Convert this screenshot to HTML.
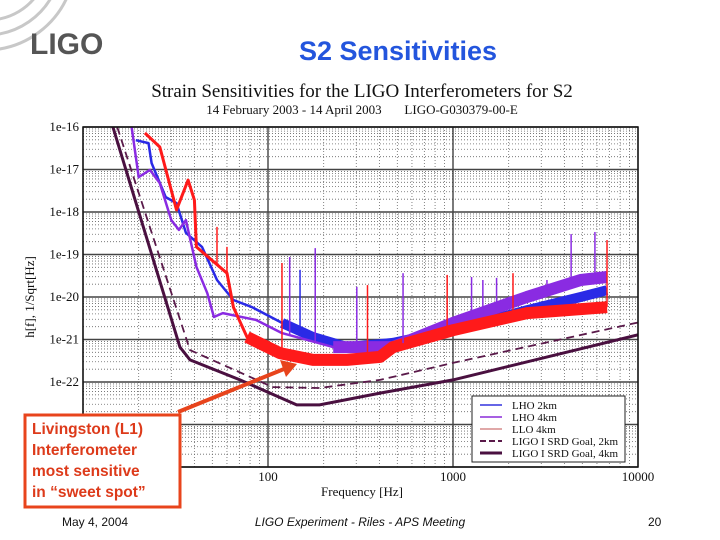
<!DOCTYPE html>
<html><head><meta charset="utf-8"><style>
body{margin:0;background:#fff;}
#wrap{position:relative;width:720px;height:540px;overflow:hidden;background:#fff;font-family:"Liberation Sans",sans-serif;}
.abs{position:absolute;}
</style></head><body>
<div id="wrap">
<svg class="abs" style="left:0;top:0" width="720" height="540">
  <g fill="none" stroke="#c8c8c8" stroke-width="3">
    <path d="M-10,20 A60,60 0 0 0 40,-10"/>
    <path d="M-10,35 A75,75 0 0 0 55,-10"/>
    <path d="M-10,50 A90,90 0 0 0 70,-10"/>
  </g>
  <text x="30" y="54" font-family="Liberation Sans" font-weight="bold" font-size="30" fill="#555">LIGO</text>
  <text x="398" y="60" text-anchor="middle" font-family="Liberation Sans" font-weight="bold" font-size="27" fill="#2355dd">S2 Sensitivities</text>
  <text x="362" y="97" text-anchor="middle" font-family="Liberation Serif" font-size="19" fill="#111">Strain Sensitivities for the LIGO Interferometers for S2</text>
  <text x="362" y="114" text-anchor="middle" font-family="Liberation Serif" font-size="13" fill="#111">14 February 2003 - 14 April 2003&#160;&#160;&#160;&#160;&#160;&#160;&#160;LIGO-G030379-00-E</text>
  <g id="chart"></g>
  <text transform="translate(34,297) rotate(-90)" text-anchor="middle" font-family="Liberation Serif" font-size="13" fill="#111">h[f], 1/Sqrt[Hz]</text>
  <text x="362" y="496" text-anchor="middle" font-family="Liberation Serif" font-size="13" fill="#111">Frequency [Hz]</text>
  <g>
    <rect x="472" y="396" width="153" height="66" fill="#fff" stroke="#222" stroke-width="1"/>
    <line x1="480" y1="405" x2="502" y2="405" stroke="#3333dd" stroke-width="1.5"/>
    <text x="512" y="409" font-family="Liberation Serif" font-size="11" fill="#111">LHO 2km</text>
    <line x1="480" y1="417" x2="502" y2="417" stroke="#8a2bd8" stroke-width="1.5"/>
    <text x="512" y="421" font-family="Liberation Serif" font-size="11" fill="#111">LHO 4km</text>
    <line x1="480" y1="429" x2="502" y2="429" stroke="#c05050" stroke-width="1"/>
    <text x="512" y="433" font-family="Liberation Serif" font-size="11" fill="#111">LLO 4km</text>
    <line x1="480" y1="441" x2="502" y2="441" stroke="#5a1a4a" stroke-width="2" stroke-dasharray="6,3"/>
    <text x="512" y="445" font-family="Liberation Serif" font-size="11" fill="#111">LIGO I SRD Goal, 2km</text>
    <line x1="480" y1="453" x2="502" y2="453" stroke="#4a1040" stroke-width="3"/>
    <text x="512" y="457" font-family="Liberation Serif" font-size="11" fill="#111">LIGO I SRD Goal, 4km</text>
  </g>
  <g>
    <line x1="178" y1="412" x2="284" y2="369" stroke="#e8441c" stroke-width="4"/>
    <polygon points="297,364 280,360 286,377" fill="#e8441c"/>
  </g>
  <rect x="25" y="415" width="155" height="92" fill="#fff" stroke="#e8441c" stroke-width="3"/>
  <g font-family="Liberation Sans" font-weight="bold" font-size="15.5" fill="#dd3a1a">
    <text x="32" y="434">Livingston (L1)</text>
    <text x="32" y="455">Interferometer</text>
    <text x="32" y="476">most sensitive</text>
    <text x="32" y="497">in “sweet spot”</text>
  </g>
  <text x="62" y="526" font-family="Liberation Sans" font-size="12" fill="#111">May 4, 2004</text>
  <text x="360" y="526" text-anchor="middle" font-family="Liberation Sans" font-style="italic" font-size="12" fill="#111">LIGO Experiment - Riles - APS Meeting</text>
  <text x="648" y="526" font-family="Liberation Sans" font-size="12" fill="#111">20</text>
</svg>
</div>
<script>
// ---- data ----
const xTicks=[10,100,1000,10000];
const xTickLabels=["","100","1000","10000"];
const yTicks=[-16,-17,-18,-19,-20,-21,-22,-23,-24];
const yTickLabels=["1e-16","1e-17","1e-18","1e-19","1e-20","1e-21","1e-22","",""];
const srd4Freq=[14.5,33.4,37.9,70.6,143,190,403,1000,10000];
const srd4LogH=[-16.0,-21.18,-21.48,-21.95,-22.54,-22.54,-22.26,-21.95,-20.89];
const srd2Freq=[15.3,37.9,80,106,190,403,1000,10000];
const srd2LogH=[-16.0,-21.25,-21.88,-22.12,-22.14,-21.95,-21.55,-20.6];
const lloFreq=[21.6,26,32,37,40,41,60,65,77,116,175,267,403,474,1000,2510,6800];
const lloLogH=[-16.14,-16.47,-17.95,-17.25,-17.72,-18.82,-19.44,-20.24,-20.94,-21.32,-21.48,-21.48,-21.41,-21.18,-20.78,-20.38,-20.24];
const lho2Freq=[19.3,22.6,23.5,28,32,36,44,53,65,82,119,175,267,474,1000,2510,4900,6800];
const lho2LogH=[-16.31,-16.38,-16.85,-17.65,-17.79,-18.49,-18.82,-19.6,-20.07,-20.24,-20.61,-20.94,-21.18,-21.08,-20.78,-20.31,-20.0,-19.84];
const lho4Freq=[18.3,20,23,26,30,33,36,41,47,51,57,86,119,225,474,1000,2510,4900,6800];
const lho4LogH=[-16.0,-17.18,-17.01,-17.32,-18.19,-18.42,-18.19,-19.29,-19.91,-20.47,-20.38,-20.54,-20.85,-21.18,-21.18,-20.61,-20.0,-19.6,-19.53];
const spikeFreq=[53,60,119,131,149,180,302,345,537,930,1260,1450,1720,2110,3220,4350,5850,6800];
const spikeLogH=[-18.35,-18.82,-19.2,-19.06,-19.36,-18.85,-19.76,-19.72,-19.44,-19.48,-19.53,-19.6,-19.55,-19.44,-19.6,-18.52,-18.47,-18.66];
const spikeSeries=["llo","llo","llo","lho4","lho2","lho4","lho4","llo","lho4","llo","lho4","lho4","lho4","llo","lho4","lho4","lho4","llo"];

// ---- axes ----
const X0=83,X1=638,Y0=127,Y1=467;
function xs(f){return X0+(Math.log10(f)-1)/3*(X1-X0);}
function ys(lh){return Y0+(-16-lh)/8*(Y1-Y0);}
const NS="http://www.w3.org/2000/svg";
const chart=document.getElementById('chart');
function mk(tag,attrs,parent){const e=document.createElementNS(NS,tag);for(const k in attrs)e.setAttribute(k,attrs[k]);(parent||chart).appendChild(e);return e;}

const bg=mk('rect',{x:X0,y:Y0,width:X1-X0,height:Y1-Y0,fill:'#fff'});


const grid=mk('g',{});


for(let d=1;d<4;d++){for(let m=2;m<=9;m++){const x=xs(m*Math.pow(10,d));mk('line',{x1:x,y1:Y0,x2:x,y2:Y1,stroke:'#666','stroke-width':0.8,'stroke-dasharray':'1,2'},grid);}}
for(let d=-24;d<-16;d++){for(let m=2;m<=9;m++){const y=ys(d+Math.log10(m));mk('line',{x1:X0,y1:y,x2:X1,y2:y,stroke:'#666','stroke-width':0.8,'stroke-dasharray':'1,2'},grid);}}
xTicks.forEach((f,i)=>{const x=xs(f);mk('line',{x1:x,y1:Y0,x2:x,y2:Y1,stroke:'#222','stroke-width':1.2},grid);
  const t=mk('text',{x:x,y:481,'text-anchor':'middle','font-family':'Liberation Serif','font-size':13,fill:'#111'});t.textContent=xTickLabels[i];
  
  });
yTicks.forEach((v,i)=>{const y=ys(v);mk('line',{x1:X0,y1:y,x2:X1,y2:y,stroke:'#444','stroke-width':1.5},grid);
  const t=mk('text',{x:79,y:y+4,'text-anchor':'end','font-family':'Liberation Serif','font-size':13,fill:'#111'});t.textContent=yTickLabels[i];
  
  });

const clip=mk('clipPath',{id:'pc'});mk('rect',{x:X0,y:Y0,width:X1-X0,height:Y1-Y0},clip);
const series=mk('g',{'clip-path':'url(#pc)'});
function line(fr,lh,attrs,name){const d=fr.map((f,i)=>(i?'L':'M')+xs(f).toFixed(1)+','+ys(lh[i]).toFixed(1)).join('');
  const p=mk('path',Object.assign({d:d,fill:'none'},attrs),series);
  
  return p;}
function hiPart(fr,lh,fmin){const F=[],L=[];fr.forEach((f,i)=>{if(f>=fmin){F.push(f);L.push(lh[i]);}});return [F,L];}
const cols={lho2:'#2a2ae6',lho4:'#8a2be2',llo:'#ff1a1a'};
line(lho2Freq,lho2LogH,{stroke:cols.lho2,'stroke-width':2.5,'stroke-linejoin':'round'},'series-lho-2km');
let hp=hiPart(lho2Freq,lho2LogH,110);
line(hp[0],hp[1],{stroke:cols.lho2,'stroke-width':10,'stroke-linejoin':'round'},'series-lho-2km-band');
line(lho4Freq,lho4LogH,{stroke:cols.lho4,'stroke-width':2.5,'stroke-linejoin':'round'},'series-lho-4km');
hp=hiPart(lho4Freq,lho4LogH,200);
line(hp[0],hp[1],{stroke:cols.lho4,'stroke-width':12,'stroke-linejoin':'round'},'series-lho-4km-band');
line(lloFreq,lloLogH,{stroke:cols.llo,'stroke-width':3,'stroke-linejoin':'round'},'series-llo-4km');
hp=hiPart(lloFreq,lloLogH,70);
line(hp[0],hp[1],{stroke:cols.llo,'stroke-width':12,'stroke-linejoin':'round'},'series-llo-4km-band');
spikeFreq.forEach((f,i)=>{const s=spikeSeries[i];const base={llo:[lloFreq,lloLogH],lho2:[lho2Freq,lho2LogH],lho4:[lho4Freq,lho4LogH]}[s];
  let bl=base[1][0];for(let k=0;k<base[0].length-1;k++){if(f>=base[0][k]&&f<=base[0][k+1]){const t=(Math.log10(f)-Math.log10(base[0][k]))/(Math.log10(base[0][k+1])-Math.log10(base[0][k]));bl=base[1][k]+t*(base[1][k+1]-base[1][k]);}}
  const sp=mk('line',{x1:xs(f),x2:xs(f),y1:ys(bl),y2:ys(spikeLogH[i]),stroke:cols[s],'stroke-width':1.5},series);
  
  });
line(srd2Freq,srd2LogH,{stroke:'#5a1a4a','stroke-width':1.8,'stroke-dasharray':'8,5'},'series-srd-2km');
line(srd4Freq,srd4LogH,{stroke:'#4a1040','stroke-width':3},'series-srd-4km');
mk('rect',{x:X0,y:Y0,width:X1-X0,height:Y1-Y0,fill:'none',stroke:'#111','stroke-width':1.5});
</script>
</body></html>
